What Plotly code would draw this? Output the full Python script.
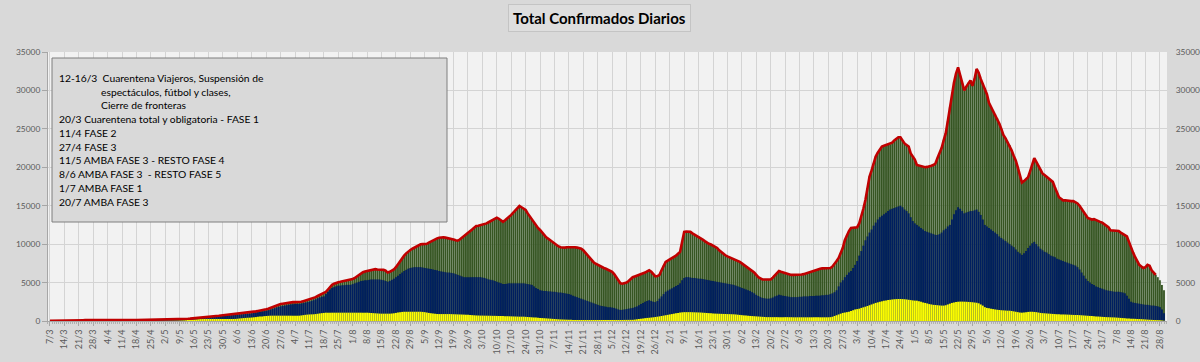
import pandas as pd
import plotly.graph_objects as go

# ---------------- DATA (daily, starting 7/3/2020) ----------------
inicio = "2020-03-07"

# Total confirmados diarios (top of stack / red line)
total = [
    10, 10, 15, 20, 25, 30, 35,
    40, 45, 50, 60, 70, 80, 90,
    95, 100, 105, 110, 115, 120, 120,
    120, 125, 125, 130, 130, 130, 125,
    125, 120, 120, 115, 115, 115, 110,
    110, 110, 105, 105, 105, 110, 110,
    110, 115, 115, 120, 120, 125, 125,
    130, 135, 140, 145, 150, 155, 160,
    165, 170, 175, 180, 185, 190, 195,
    200, 220, 250, 270, 290, 310, 330,
    350, 380, 400, 430, 460, 490, 520,
    550, 580, 600, 630, 650, 680, 720,
    750, 780, 810, 840, 870, 900, 920,
    950, 970, 990, 1010, 1030, 1050, 1080,
    1150, 1200, 1250, 1300, 1340, 1400, 1460,
    1520, 1600, 1700, 1800, 1900, 2080, 2150,
    2200, 2250, 2300, 2380, 2420, 2440, 2450,
    2450, 2440, 2430, 2500, 2580, 2650, 2740,
    2820, 2900, 3000, 3100, 3250, 3380, 3500,
    3600, 3800, 4100, 4460, 4700, 4850, 4980,
    5050, 5100, 5150, 5200, 5250, 5300, 5340,
    5450, 5600, 5800, 6000, 6200, 6350, 6450,
    6500, 6600, 6650, 6700, 6750, 6700, 6700,
    6700, 6650, 6550, 6300, 6400, 6550, 6700,
    7000, 7400, 7800, 8150, 8500, 8800, 9050,
    9240, 9400, 9550, 9700, 9850, 9980, 10000,
    10000, 10050, 10200, 10350, 10500, 10650, 10750,
    10840, 10900, 10900, 10850, 10800, 10760, 10700,
    10600, 10500, 10450, 10600, 10800, 11000, 11190,
    11400, 11650, 11900, 12150, 12360, 12400, 12450,
    12500, 12600, 12700, 12850, 13000, 13200, 13350,
    13440, 13300, 13100, 12900, 13100, 13300, 13490,
    13800, 14100, 14400, 14700, 14960, 14800, 14650,
    14440, 14000, 13600, 13140, 12800, 12450, 12100,
    11840, 11500, 11200, 10900, 10700, 10500, 10250,
    10000, 9850, 9700, 9600, 9550, 9550, 9600,
    9600, 9650, 9650, 9600, 9550, 9500, 9400,
    9200, 8900, 8550, 8200, 7900, 7650, 7450,
    7300, 7100, 7000, 6900, 6800, 6700, 6600,
    6400, 6100, 5700, 5300, 4900, 4850, 4900,
    5000, 5200, 5450, 5700, 5800, 5900, 5950,
    6000, 6100, 6300, 6450, 6600, 6400, 6100,
    5800, 5850, 6000, 6600, 7200, 7700, 7850,
    8000, 8150, 8300, 8500, 8750, 9000, 10300,
    11600, 11650, 11650, 11600, 11400, 11250, 11100,
    11000, 10800, 10600, 10400, 10200, 10050, 9950,
    9800, 9650, 9500, 9200, 8950, 8700, 8550,
    8400, 8300, 8150, 8050, 7950, 7850, 7700,
    7500, 7300, 7100, 6900, 6750, 6600, 6300,
    6000, 5700, 5550, 5400, 5400, 5400, 5400,
    5400, 5650, 5950, 6250, 6500, 6400, 6300,
    6200, 6100, 6000, 6000, 6000, 6000, 6000,
    6000, 6050, 6100, 6200, 6300, 6400, 6500,
    6600, 6650, 6700, 6800, 6850, 6850, 6900,
    6900, 6900, 7100, 7400, 7800, 8200, 8800,
    9500, 10500, 11200, 11700, 12100, 12150, 12200,
    12200, 12700, 13500, 14600, 15740, 17300, 18800,
    19600, 20500, 21400, 21900, 22300, 22700, 22800,
    22900, 22950, 23000, 23200, 23500, 23700, 23900,
    23900, 23500, 23100, 22900, 22700, 21800, 21400,
    21000, 20300, 20200, 20100, 20050, 20000, 20050,
    20100, 20200, 20300, 20500, 21200, 21800, 22500,
    23500, 24400, 26000, 27800, 29600, 31000, 32200,
    33000, 32000, 31000, 30000, 30500, 31000, 31300,
    30600, 31500, 32800, 32300, 31500, 30900, 30300,
    29500, 28400, 27900, 27400, 26900, 26400, 25700,
    25000, 24200, 23800, 23300, 22900, 22200, 21500,
    20900, 20000, 19000, 18000, 18200, 18400, 18700,
    19500, 20300, 21200, 20700, 20200, 19700, 19200,
    19000, 18800, 18500, 18300, 18100, 17400, 16700,
    16100, 15900, 15700, 15700, 15650, 15600, 15600,
    15600, 15500, 15300, 15000, 14600, 14200, 13800,
    13400, 13300, 13200, 13250, 13100, 13000, 12900,
    12800, 12600, 12400, 12200, 11800, 11750, 11700,
    11700, 11700, 11500, 11300, 11150, 11000, 10300,
    9500, 8900, 8300, 7700, 7300, 7100, 6900,
    7000, 7300, 7200, 6600, 6300, 6000, 5700,
    5300, 4700, 4000,
]

# Cumulative top of the blue band (yellow + blue)
azul_acum = [
    8, 8, 12, 16, 20, 25, 30,
    35, 40, 45, 50, 60, 70, 80,
    85, 90, 95, 100, 100, 105, 105,
    105, 110, 110, 110, 110, 110, 110,
    110, 105, 105, 100, 100, 100, 95,
    95, 95, 90, 90, 90, 95, 95,
    95, 100, 100, 105, 105, 110, 110,
    115, 120, 120, 125, 130, 135, 140,
    145, 150, 150, 155, 160, 165, 170,
    175, 190, 220, 230, 250, 270, 285,
    300, 330, 350, 370, 400, 420, 450,
    480, 500, 520, 550, 570, 590, 620,
    650, 670, 700, 720, 750, 770, 790,
    820, 840, 860, 880, 900, 920, 950,
    1000, 1050, 1100, 1150, 1180, 1220, 1260,
    1300, 1380, 1460, 1550, 1640, 1750, 1830,
    1900, 1950, 2000, 2050, 2100, 2150, 2180,
    2200, 2200, 2200, 2250, 2320, 2380, 2440,
    2500, 2600, 2700, 2800, 2950, 3050, 3150,
    3200, 3500, 3800, 4100, 4300, 4400, 4500,
    4600, 4600, 4650, 4650, 4700, 4700, 4700,
    4800, 4900, 5000, 5100, 5200, 5250, 5300,
    5300, 5350, 5400, 5400, 5400, 5400, 5400,
    5350, 5300, 5200, 5100, 5200, 5350, 5500,
    5700, 5900, 6100, 6300, 6500, 6650, 6800,
    6900, 6950, 7000, 7000, 7000, 7000, 6950,
    6900, 6850, 6800, 6750, 6700, 6650, 6600,
    6500, 6450, 6400, 6350, 6300, 6300, 6250,
    6200, 6100, 6000, 5900, 5800, 5700, 5700,
    5700, 5700, 5700, 5700, 5700, 5700, 5700,
    5650, 5600, 5500, 5400, 5350, 5300, 5200,
    5100, 5000, 4900, 4800, 4800, 4850, 4900,
    4900, 4900, 4900, 4900, 4900, 4900, 4900,
    4850, 4800, 4750, 4700, 4500, 4300, 4150,
    4000, 3950, 3900, 3900, 3850, 3850, 3800,
    3800, 3750, 3700, 3700, 3650, 3600, 3550,
    3500, 3400, 3300, 3200, 3100, 3000, 2900,
    2800, 2700, 2600, 2500, 2400, 2300, 2200,
    2100, 2000, 1950, 1900, 1850, 1800, 1800,
    1750, 1700, 1600, 1500, 1430, 1450, 1500,
    1550, 1600, 1650, 1700, 1800, 1900, 2050,
    2200, 2350, 2500, 2600, 2700, 2600, 2500,
    2450, 2600, 2900, 3200, 3500, 3800, 3950,
    4100, 4250, 4400, 4550, 4700, 4900, 5300,
    5600, 5700, 5700, 5650, 5600, 5600, 5550,
    5500, 5500, 5450, 5400, 5350, 5300, 5250,
    5200, 5150, 5100, 5050, 5000, 4950, 4900,
    4850, 4800, 4750, 4700, 4600, 4500, 4400,
    4300, 4200, 4100, 4000, 3900, 3750, 3600,
    3400, 3250, 3100, 3000, 2950, 2900, 2900,
    2950, 3050, 3200, 3300, 3400, 3350, 3300,
    3250, 3200, 3150, 3100, 3100, 3100, 3100,
    3150, 3150, 3200, 3200, 3200, 3250, 3250,
    3250, 3300, 3300, 3300, 3350, 3350, 3400,
    3400, 3500, 3600, 3750, 4000, 4500, 5000,
    5300, 5700, 6000, 6300, 6500, 6900, 7300,
    7800, 8500, 9100, 9800, 10500, 11000, 11500,
    11900, 12400, 12800, 13200, 13500, 13700, 13900,
    14100, 14300, 14500, 14600, 14700, 14800, 14900,
    15000, 14800, 14500, 14300, 14000, 13500, 13000,
    12700, 12500, 12300, 12100, 11900, 11700, 11600,
    11500, 11400, 11300, 11200, 11200, 11300, 11500,
    11800, 12000, 12300, 12500, 13200, 13900, 14400,
    14800, 14600, 14300, 14000, 14100, 14200, 14300,
    14300, 14400, 14500, 14200, 13800, 13200, 12500,
    12300, 12100, 11900, 11700, 11500, 11300, 11000,
    10800, 10600, 10400, 10200, 10000, 9800, 9600,
    9300, 9000, 8800, 8600, 8800, 9100, 9500,
    9800, 10100, 10300, 10000, 9700, 9400, 9200,
    9000, 8900, 8700, 8500, 8400, 8300, 8100,
    8000, 7900, 7800, 7700, 7600, 7500, 7400,
    7300, 7200, 7000, 6700, 6300, 5900, 5500,
    5200, 5000, 4800, 4700, 4500, 4400, 4300,
    4200, 4100, 4000, 3950, 3900, 3850, 3800,
    3800, 3800, 3750, 3700, 3600, 3300, 2900,
    2500, 2400, 2350, 2300, 2250, 2200, 2150,
    2100, 2100, 2050, 2000, 2000, 1950, 1900,
    1800, 1500, 1000,
]

# Yellow band (bottom)
amarillo = [
    2, 2, 3, 4, 5, 6, 7,
    8, 9, 10, 11, 12, 13, 14,
    15, 15, 16, 16, 17, 17, 18,
    18, 18, 19, 19, 20, 20, 20,
    20, 20, 20, 20, 20, 20, 20,
    20, 20, 20, 20, 20, 20, 20,
    20, 21, 21, 22, 22, 23, 23,
    24, 25, 26, 27, 28, 29, 30,
    32, 34, 36, 38, 40, 45, 50,
    60, 70, 80, 100, 120, 140, 160,
    180, 200, 220, 240, 250, 260, 260,
    260, 260, 260, 260, 260, 260, 260,
    260, 260, 260, 260, 260, 260, 270,
    290, 320, 350, 380, 400, 420, 430,
    450, 480, 510, 540, 570, 600, 630,
    650, 670, 690, 690, 690, 690, 690,
    690, 690, 690, 690, 690, 690, 690,
    690, 690, 690, 720, 760, 800, 830,
    850, 860, 870, 900, 940, 980, 1020,
    1050, 1080, 1080, 1080, 1080, 1080, 1080,
    1080, 1080, 1080, 1080, 1080, 1080, 1080,
    1080, 1080, 1080, 1080, 1080, 1080, 1080,
    1080, 1060, 1040, 1020, 1000, 980, 960,
    950, 950, 950, 950, 950, 970, 1000,
    1050, 1100, 1150, 1180, 1200, 1200, 1200,
    1200, 1200, 1200, 1200, 1200, 1200, 1180,
    1150, 1100, 1050, 1000, 960, 930, 910,
    900, 900, 900, 900, 900, 900, 890,
    880, 870, 860, 850, 840, 830, 820,
    800, 780, 760, 740, 720, 710, 700,
    700, 690, 690, 680, 680, 670, 670,
    660, 650, 650, 640, 630, 620, 610,
    600, 590, 580, 570, 560, 560, 560,
    540, 520, 500, 480, 460, 440, 420,
    400, 380, 360, 340, 320, 300, 280,
    260, 240, 220, 200, 190, 180, 170,
    160, 150, 140, 130, 130, 130, 130,
    130, 130, 130, 130, 130, 130, 130,
    130, 130, 130, 130, 130, 130, 130,
    130, 130, 130, 130, 130, 130, 140,
    140, 145, 150, 150, 180, 220, 260,
    300, 340, 370, 400, 420, 450, 480,
    520, 560, 600, 650, 700, 750, 800,
    850, 900, 950, 1000, 1050, 1100, 1130,
    1150, 1150, 1150, 1150, 1140, 1130, 1120,
    1110, 1100, 1080, 1060, 1040, 1020, 1000,
    980, 960, 950, 940, 930, 920, 910,
    900, 890, 880, 870, 850, 820, 790,
    760, 730, 700, 680, 660, 640, 620,
    600, 580, 560, 540, 520, 500, 500,
    500, 500, 500, 500, 500, 500, 500,
    500, 500, 490, 490, 480, 480, 480,
    480, 480, 480, 480, 480, 480, 480,
    480, 480, 480, 480, 480, 480, 480,
    480, 500, 550, 650, 750, 850, 950,
    1050, 1100, 1150, 1200, 1300, 1400, 1500,
    1550, 1600, 1700, 1780, 1860, 1950, 2050,
    2150, 2250, 2350, 2420, 2500, 2560, 2620,
    2680, 2720, 2760, 2800, 2830, 2850, 2860,
    2860, 2850, 2830, 2800, 2760, 2720, 2680,
    2650, 2640, 2580, 2500, 2420, 2350, 2280,
    2200, 2150, 2100, 2080, 2050, 2020, 2000,
    2000, 2050, 2150, 2250, 2350, 2420, 2480,
    2500, 2520, 2520, 2510, 2500, 2480, 2460,
    2440, 2400, 2370, 2300, 2150, 2000, 1800,
    1700, 1650, 1600, 1550, 1500, 1460, 1430,
    1400, 1380, 1360, 1340, 1340, 1300, 1250,
    1200, 1150, 1100, 1080, 1100, 1150, 1180,
    1200, 1200, 1180, 1150, 1100, 1050, 1020,
    1000, 980, 960, 940, 920, 900, 880,
    870, 860, 850, 840, 830, 820, 800,
    790, 780, 780, 760, 740, 720, 700,
    680, 660, 640, 620, 600, 580, 560,
    540, 520, 500, 490, 480, 470, 460,
    440, 420, 400, 380, 360, 340, 320,
    300, 290, 280, 260, 250, 240, 220,
    200, 180, 160, 150, 130, 120, 110,
    100, 60, 30,
]

dias_linea = 538  # the red total line stops a few days before the last bars

titulo = "Total Confirmados Diarios"
notas = [
    ("12-16/3  Cuarentena Viajeros, Suspensión de", False),
    ("espectáculos, fútbol y clases,", True),
    ("Cierre de fronteras", True),
    ("20/3 Cuarentena total y obligatoria - FASE 1", False),
    ("11/4 FASE 2", False),
    ("27/4 FASE 3", False),
    ("11/5 AMBA FASE 3 - RESTO FASE 4", False),
    ("8/6 AMBA FASE 3  - RESTO FASE 5", False),
    ("1/7 AMBA FASE 1", False),
    ("20/7 AMBA FASE 3", False),
]

n = len(total)
assert len(azul_acum) == n and len(amarillo) == n, (len(total), len(azul_acum), len(amarillo))
fechas = pd.date_range(inicio, periods=n, freq="D")

# ---------------- FIGURE ----------------
W, H = 1200, 362
ML, MR, MT, MB = 48, 33, 52, 41
PW, PH = W - ML - MR, H - MT - MB


def px(x):
    return (x - ML) / PW


def py(y):
    return (H - MB - y) / PH


fig = go.Figure()
for vals, col, nm in [(total, "#375623", "total"), (azul_acum, "#002060", "azul"),
                      (amarillo, "#ffff00", "amarillo")]:
    fig.add_trace(go.Bar(x=fechas, y=vals, name=nm, showlegend=False,
                         marker=dict(color=col, line=dict(color=col, width=0.05))))
fig.add_trace(go.Scatter(x=fechas[:dias_linea], y=total[:dias_linea], mode="lines", yaxis="y2",
                         line=dict(color="#c00000", width=2.6), showlegend=False))

# Notes box
fig.add_shape(type="rect", xref="paper", yref="paper",
              x0=px(52), x1=px(447), y0=py(222), y1=py(58),
              fillcolor="#d9d9d9", line=dict(color="#7f7f7f", width=1), layer="above")
y0 = 78
for i, (txt, ind) in enumerate(notas):
    fig.add_annotation(xref="paper", yref="paper", x=px(99 if ind else 57), y=py(y0 + i * 13.74),
                       text=txt, showarrow=False, xanchor="left", yanchor="middle",
                       font=dict(family="Lato, Carlito, sans-serif", size=10.3, color="#000000"))

# Title
fig.add_annotation(xref="paper", yref="paper", x=px(599), y=py(18), text="<b>" + titulo + "</b>",
                   showarrow=False, xanchor="center", yanchor="middle",
                   font=dict(family="Lato, sans-serif", size=15, color="#000000"),
                   bgcolor="#dedede", bordercolor="#c4c4c4", borderwidth=1, borderpad=4)

day_ms = 86400000
tick_font = dict(family="Lato, sans-serif", size=8.4, color="#595959")
fig.update_layout(
    width=W, height=H,
    margin=dict(l=ML, r=MR, t=MT, b=MB, pad=0),
    paper_bgcolor="#d9d9d9", plot_bgcolor="#f2f2f2",
    barmode="overlay", bargap=0.1,
    font=dict(family="Lato, sans-serif", color="#595959"),
    xaxis=dict(
        type="date",
        range=[pd.Timestamp(inicio) - pd.Timedelta(hours=23), pd.Timestamp(inicio) + pd.Timedelta(days=n - 1, hours=35)],
        tick0=inicio, dtick=7 * day_ms, tickformat="%-d/%-m", tickangle=-90,
        tickfont=dict(family="Lato, sans-serif", size=9, color="#595959"),
        ticks="outside", ticklen=4, tickcolor="#a6a6a6",
        minor=dict(dtick=day_ms, ticks="outside", ticklen=2, tickcolor="#b0b0b0", showgrid=False),
        showgrid=True, gridcolor="#d4d4d4", gridwidth=1.3,
        showline=True, linecolor="#a6a6a6", linewidth=1,
        automargin=False, fixedrange=True,
    ),
    yaxis=dict(
        range=[0, 35000], dtick=5000, tickformat="d", tickfont=tick_font,
        ticks="outside", ticklen=5, tickcolor="#a6a6a6",
        showgrid=True, gridcolor="#d4d4d4", gridwidth=1,
        showline=True, linecolor="#a6a6a6", linewidth=1,
        zeroline=False, automargin=False, fixedrange=True,
    ),
    yaxis2=dict(
        range=[0, 35000], dtick=5000, tickformat="d", overlaying="y", side="right",
        tickfont=tick_font, showgrid=False, zeroline=False,
        ticks="outside", ticklen=6, tickcolor="rgba(0,0,0,0)", showline=False,
        automargin=False, fixedrange=True,
    ),
)

fig.write_html(
    "out.html",
    config={"displayModeBar": False},
    post_script="document.body.style.margin='0';document.body.style.background='#d9d9d9';"
                "window.dispatchEvent(new Event('resize'));",
)
